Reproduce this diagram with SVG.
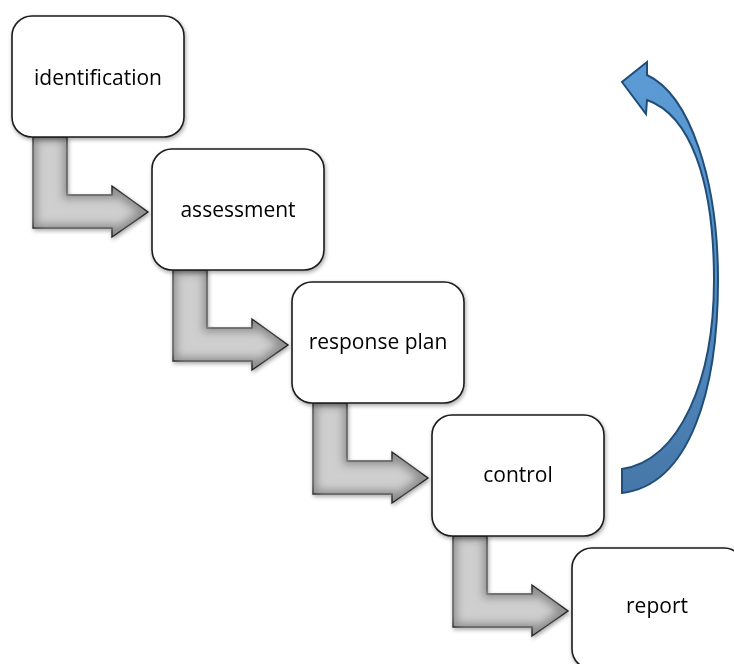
<svg xmlns="http://www.w3.org/2000/svg" width="734" height="664" viewBox="0 0 734 664">
  <style>
    .box { fill: #ffffff; stroke: #1a1a1a; stroke-width: 1.6; }
    .lbl { font-family: "Open Sans", "Liberation Sans", sans-serif; font-size: 21px; fill: #000000; text-anchor: middle; }
    .step { fill: #8f8f8f; stroke: #222222; stroke-width: 1.4; stroke-linejoin: miter; }
    .loop { fill: url(#blueGrad); stroke: #1f4e79; stroke-width: 2; stroke-linejoin: miter; }
  </style>
  <defs>
    <linearGradient id="blueGrad" x1="0" y1="0" x2="0" y2="1">
      <stop offset="0" stop-color="#5b9bd5"/>
      <stop offset="0.5" stop-color="#5590c8"/>
      <stop offset="1" stop-color="#4677a8"/>
    </linearGradient>
    <filter id="shadow" x="-20%" y="-20%" width="140%" height="140%">
      <feGaussianBlur in="SourceAlpha" stdDeviation="2"/>
      <feOffset dx="1" dy="2" result="b"/>
      <feComponentTransfer><feFuncA type="linear" slope="0.35"/></feComponentTransfer>
      <feMerge><feMergeNode/><feMergeNode in="SourceGraphic"/></feMerge>
    </filter>
    <filter id="bevel" x="-20%" y="-20%" width="140%" height="140%">
      <feGaussianBlur in="SourceAlpha" stdDeviation="2" result="sb"/>
      <feOffset in="sb" dx="1" dy="2" result="so"/>
      <feComponentTransfer in="so" result="shadowA"><feFuncA type="linear" slope="0.35"/></feComponentTransfer>
      <feMorphology in="SourceAlpha" operator="erode" radius="5" result="er"/>
      <feGaussianBlur in="er" stdDeviation="4" result="bl"/>
      <feFlood flood-color="#cfcfcf" result="fl"/>
      <feComposite in="fl" in2="bl" operator="in" result="light"/>
      <feComposite in="light" in2="SourceAlpha" operator="in" result="light2"/>
      <feMerge><feMergeNode in="shadowA"/><feMergeNode in="SourceGraphic"/><feMergeNode in="light2"/></feMerge>
    </filter>
    <path id="bent" d="M21,121 L55,121 L55,179 L100,179 L100,170 L136,196 L100,221 L100,212 L21,212 Z"/>
  </defs>

  <g id="connectors">
    <use href="#bent" class="step" filter="url(#bevel)" transform="translate(12,16)"/>
    <use href="#bent" class="step" filter="url(#bevel)" transform="translate(152,149)"/>
    <use href="#bent" class="step" filter="url(#bevel)" transform="translate(292,282)"/>
    <use href="#bent" class="step" filter="url(#bevel)" transform="translate(432,415)"/>
    <path id="loop-arrow" class="loop" d="M647,75 C690,95 718,180 718,280 C718,390 690,485 622,493 L622,469 C680,460 714,380 714,280 C714,180 690,115 647,100 L646,114 L622,82 L647,62 Z"/>
  </g>

  <g id="node-identification" filter="url(#shadow)">
    <rect class="box" x="12" y="16" width="172" height="121" rx="20"/>
    <text class="lbl" x="98" y="85">identification</text>
  </g>
  <g id="node-assessment" filter="url(#shadow)">
    <rect class="box" x="152" y="149" width="172" height="121" rx="20"/>
    <text class="lbl" x="238" y="217">assessment</text>
  </g>
  <g id="node-response-plan" filter="url(#shadow)">
    <rect class="box" x="292" y="282" width="172" height="121" rx="20"/>
    <text class="lbl" x="378" y="349">response plan</text>
  </g>
  <g id="node-control" filter="url(#shadow)">
    <rect class="box" x="432" y="415" width="172" height="121" rx="20"/>
    <text class="lbl" x="518" y="482">control</text>
  </g>
  <g id="node-report" filter="url(#shadow)">
    <rect class="box" x="572" y="548" width="172" height="121" rx="20"/>
    <text class="lbl" x="657" y="613">report</text>
  </g>
</svg>
